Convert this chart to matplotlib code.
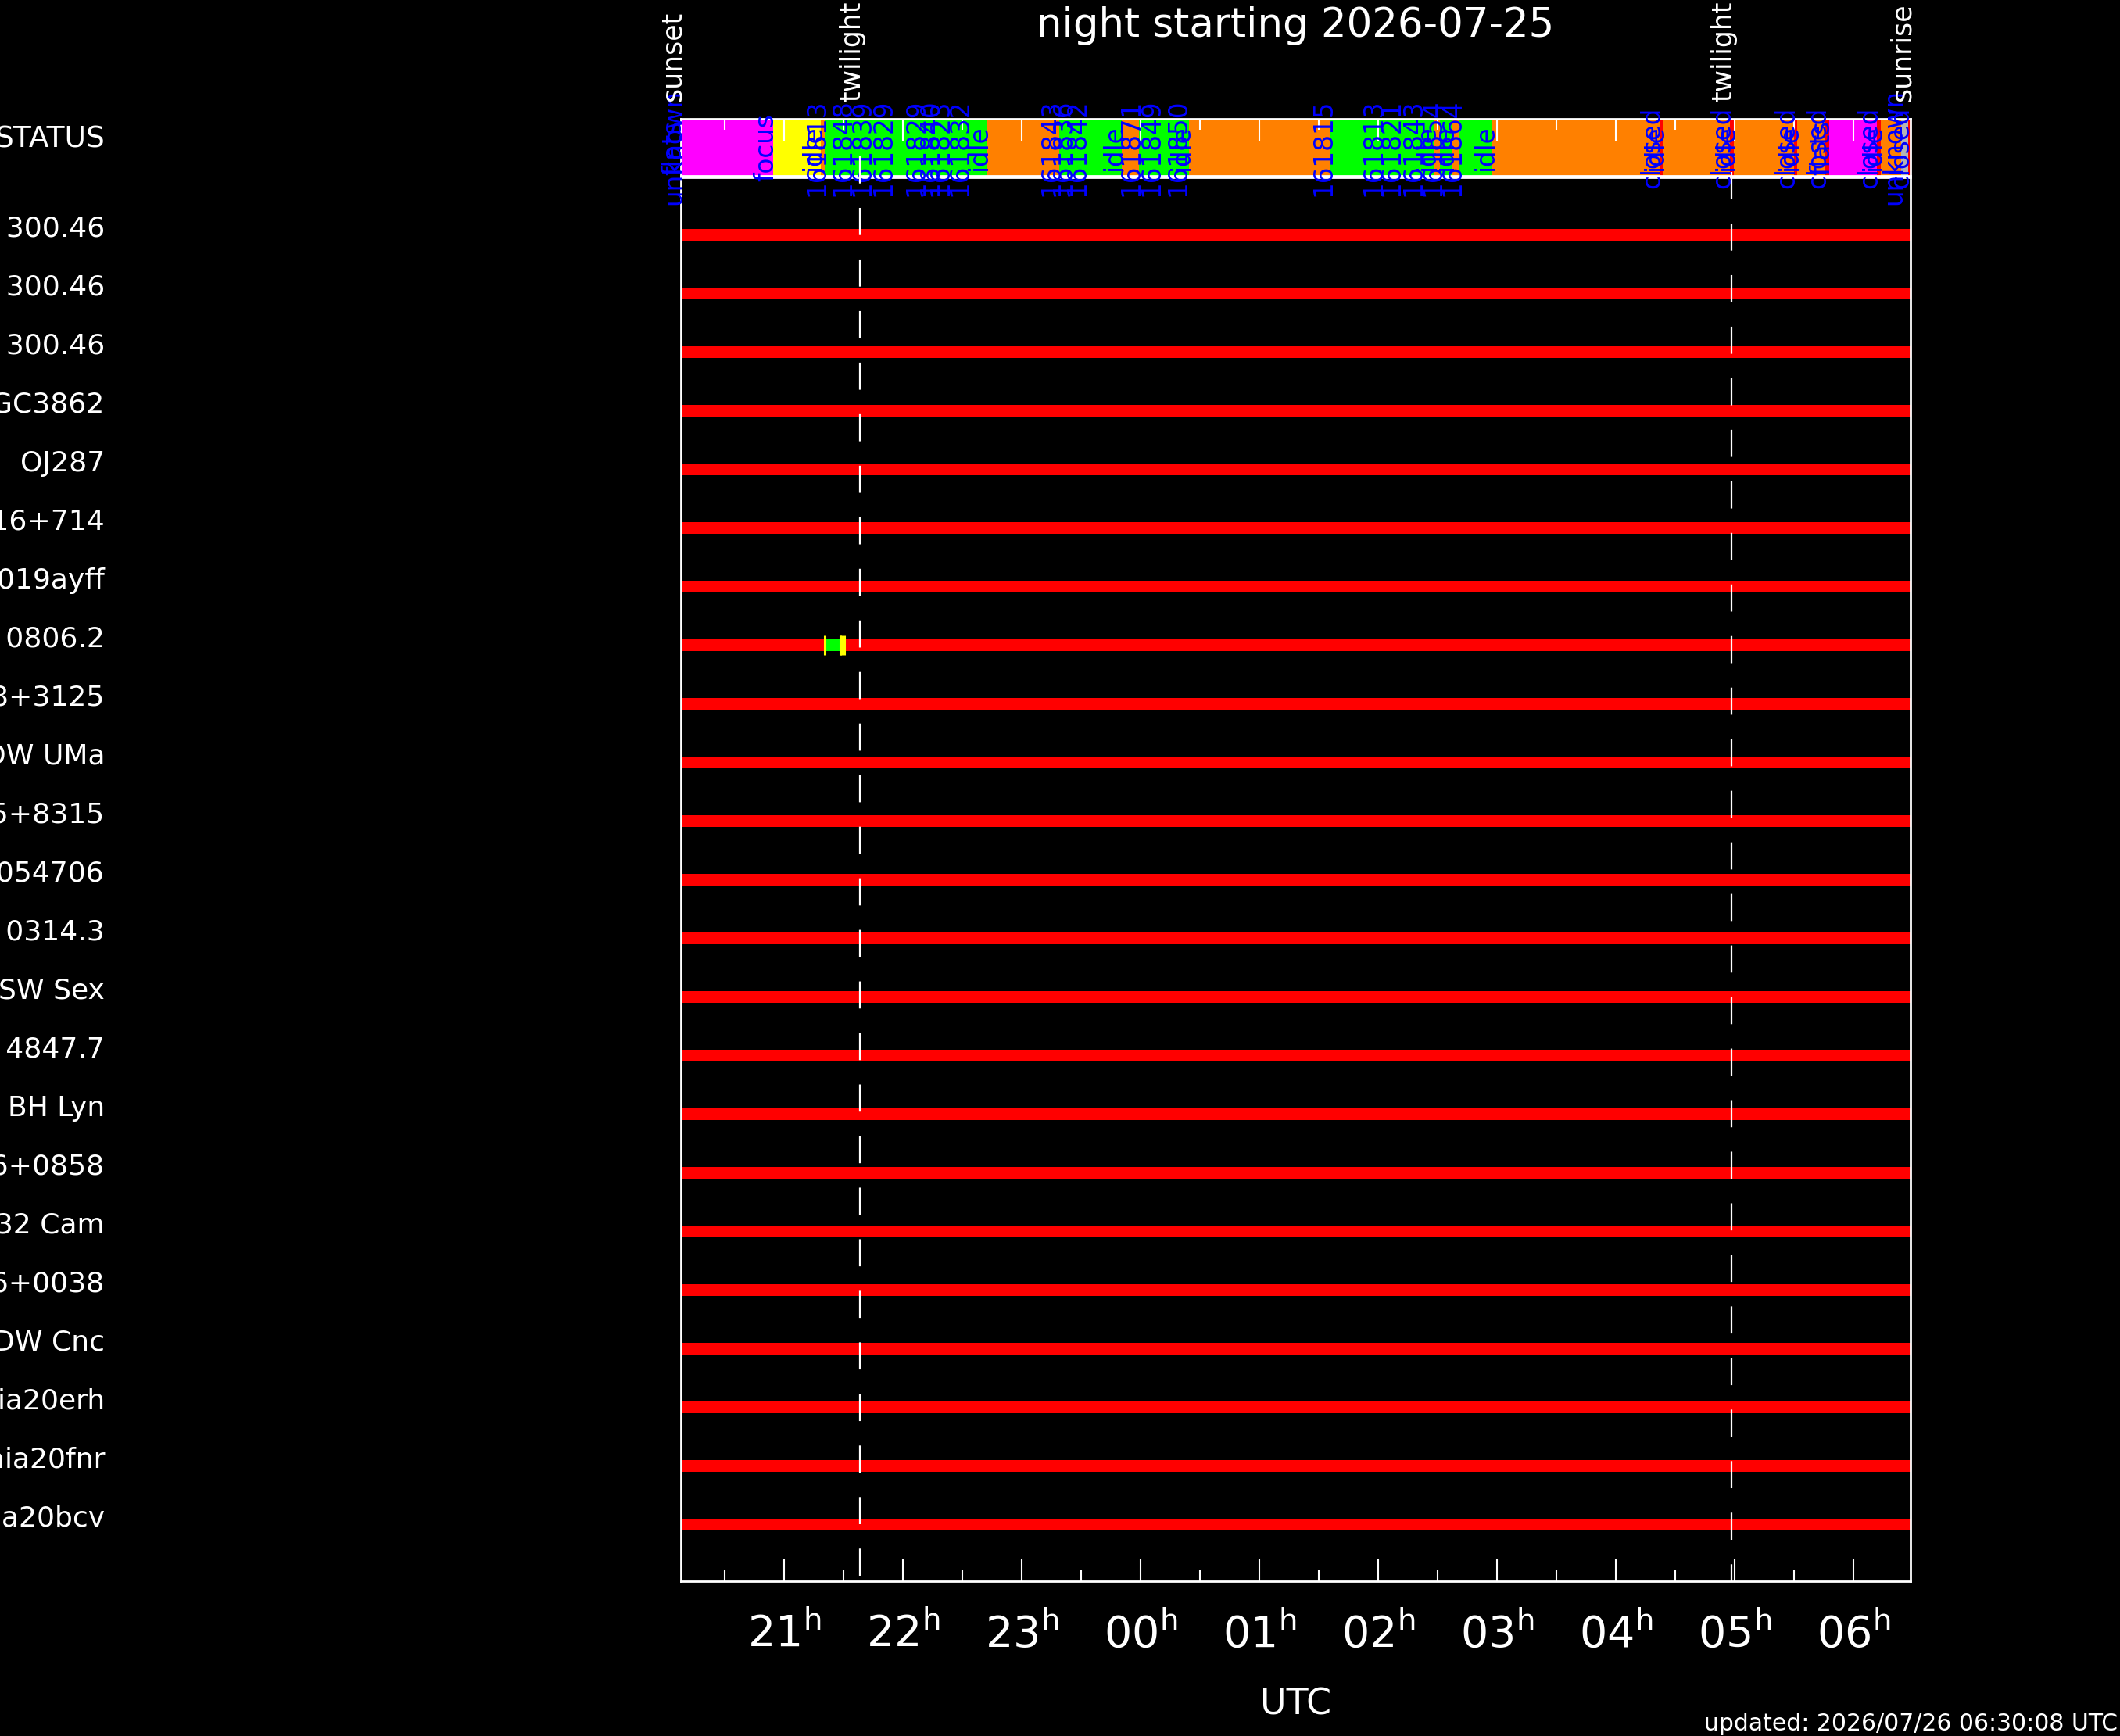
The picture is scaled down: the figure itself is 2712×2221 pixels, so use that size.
import numpy as np
import matplotlib
matplotlib.use('Agg')
import matplotlib.pyplot as plt
from matplotlib.lines import Line2D
from matplotlib.transforms import blended_transform_factory

plt.rcParams['font.family'] = ['DejaVu Sans']
plt.rcParams['lines.scale_dashes'] = False

# night starting 2026-07-25, times in decimal UTC hours (after midnight -> +24)
sunset = 20.132
sunrise = 30.48
twilight_eve = 21.638
twilight_morn = 28.975

hour_ticks = [21, 22, 23, 24, 25, 26, 27, 28, 29, 30]
hour_labels = ['21', '22', '23', '00', '01', '02', '03', '04', '05', '06']
half_ticks = [20.5, 21.5, 22.5, 23.5, 24.5, 25.5, 26.5, 27.5, 28.5, 29.5]

targets = ['Cal 300.46', 'Cal 300.46', 'Cal 300.46', 'NGC3862', 'OJ287',
           'S5 0716+714', 'AT2019ayff', 'PG 0806.2', 'J0808+3125', 'DW UMa',
           'J0745+8315', 'J2100054706', 'PN 0314.3', 'SW Sex', 'PN 4847.7',
           'BH Lyn', 'J0926+0858', 'V1332 Cam', 'J1026+0038', 'DW Cnc',
           'Gaia20erh', 'Gaia20fnr', 'Gaia20bcv']

# observable window of each target (red bars)
vis_start = [20.132, 20.132, 20.132, 20.132, 20.132, 20.132, 20.132, 20.132,
             20.132, 20.132, 20.132, 20.132, 20.132, 20.132, 20.132, 20.132,
             20.132, 20.132, 20.132, 20.132, 20.132, 20.132, 20.132]
vis_end = [30.48, 30.48, 30.48, 30.48, 30.48, 30.48, 30.48, 30.48,
           30.48, 30.48, 30.48, 30.48, 30.48, 30.48, 30.48, 30.48,
           30.48, 30.48, 30.48, 30.48, 30.48, 30.48, 30.48]

# exposures actually taken
obs_row = [7, 7]
obs_start = [21.345, 21.478]
obs_end = [21.477, 21.510]

# telescope status log
status_times = [20.132, 20.132, 20.908, 21.309, 21.342, 21.559, 21.723, 21.901,
                22.177, 22.295, 22.381, 22.545, 22.703, 23.314, 23.413, 23.531,
                23.840, 23.985, 24.156, 24.379, 24.406, 25.602, 26.023, 26.174,
                26.358, 26.470, 26.523, 26.621, 26.687, 26.963, 28.370, 28.396,
                28.962, 28.995, 29.501, 29.527, 29.764, 29.797, 30.198, 30.231,
                30.402, 30.461]
status_labels = ['unknown', 'flats', 'focus', 'idle', '161813', '161848', '161839',
                 '161829', '161829', '161840', '161823', '161832', 'idle', '161843',
                 '161836', '161842', 'idle', '161871', '161849', '161850', 'idle',
                 '161815', '161813', '161821', '161843', 'idle', '161854', 'idle',
                 '161864', 'idle', 'closed', 'idle', 'closed', 'idle', 'closed',
                 'idle', 'closed', 'flats', 'closed', 'idle', 'unknown', 'closed']

state_colors = {'unknown': '#b4b4b4', 'flats': '#ff00ff', 'focus': '#ffff00',
                'idle': '#ff8000', 'closed': '#ff0000'}
obs_color = '#00ff00'

sun_times = [sunset, twilight_eve, twilight_morn, sunrise]
sun_labels = ['sunset', 'twilight', 'twilight', 'sunrise']

W, H = 2712, 2221
fig = plt.figure(figsize=(W / 100, H / 100), dpi=100, facecolor='black')
ax = fig.add_axes([871 / W, 1 - 2023 / H, 1573 / W, 1796 / H], facecolor='black')
ax_s = fig.add_axes([871 / W, 1 - 225 / H, 1573 / W, 73 / H], facecolor='black', zorder=1)

# target rows
rows = np.arange(len(targets))
ax.barh(rows, np.array(vis_end) - np.array(vis_start), left=vis_start,
        height=0.2, color='#ff0000', lw=0)
ax.barh(obs_row, np.array(obs_end) - np.array(obs_start), left=obs_start,
        height=0.2, color=obs_color, lw=0, zorder=3)
for r, s, e in zip(obs_row, obs_start, obs_end):
    ax.vlines([s, e], r - 0.167, r + 0.167, color='#ffff00', lw=2.2, zorder=4)

ax.set_xlim(sunset, sunrise)
ax.set_ylim(22.97, -0.98)

tl = blended_transform_factory(fig.transFigure, ax.transData)
for i, name in enumerate(targets):
    ax.text(134 / W, i + 0.03, name, transform=tl, ha='right', va='baseline',
            color='white', fontsize=26)

# status bar
for i, (t, lab) in enumerate(zip(status_times, status_labels)):
    end = status_times[i + 1] if i + 1 < len(status_times) else sunrise
    col = state_colors.get(lab, obs_color)
    ax_s.barh(0.5, end - t, left=t, height=1, color=col, lw=0)
for t, lab in zip(status_times, status_labels):
    ax_s.text(t, 0.5, lab, rotation=90, rotation_mode='anchor', ha='center',
              va='baseline', color='#0000ff', fontsize=23.5, clip_on=False, zorder=5)
ax_s.set_xlim(sunset, sunrise)
ax_s.set_ylim(0, 1)
ax_s.text(134 / W, 0.5, 'STATUS', transform=blended_transform_factory(fig.transFigure, ax_s.transAxes),
          ha='right', va='baseline', color='white', fontsize=27)

for a in (ax, ax_s):
    for sp in a.spines.values():
        sp.set_color('white')
        sp.set_linewidth(2)
    a.set_xticks(hour_ticks)
    a.set_xticks(half_ticks, minor=True)
    a.tick_params(axis='y', left=False, labelleft=False)
    a.tick_params(axis='x', which='major', direction='in', length=20, width=1.5, color='white')
    a.tick_params(axis='x', which='minor', direction='in', length=10, width=1.5, color='white')

ax.set_xticklabels([h + r'$^{\rm h}$' for h in hour_labels])
ax.tick_params(axis='x', which='both', top=False, labelcolor='white', labelsize=40, pad=29)
ax_s.tick_params(axis='x', which='both', top=True, bottom=False, labelbottom=False, labeltop=False)

# twilight lines and sun labels
trans = blended_transform_factory(ax.transData, fig.transFigure)
for t, ytop in zip([twilight_eve, twilight_morn], [200, 220]):
    fig.add_artist(Line2D([t, t], [1 - ytop / H, 1 - 2023 / H], transform=trans,
                          color='white', lw=1.6, dashes=(25, 22.5), zorder=6))
for t, lab in zip(sun_times, sun_labels):
    fig.text(t, 1 - 130 / H, lab, transform=trans, rotation=90, rotation_mode='anchor',
             ha='left', va='baseline', color='white', fontsize=25)

fig.text(1657.5 / W, 1 - 47 / H, 'night starting 2026-07-25', ha='center', va='baseline',
         color='white', fontsize=37)
fig.text(1657.5 / W, 1 - 2193 / H, 'UTC', ha='center', va='baseline', color='white', fontsize=33)
fig.text(2709 / W, 1 - 2214 / H, 'updated: 2026/07/26 06:30:08 UTC', ha='right', va='baseline',
         color='white', fontsize=21.5)

fig.savefig('out.png', dpi=100, facecolor='black')
